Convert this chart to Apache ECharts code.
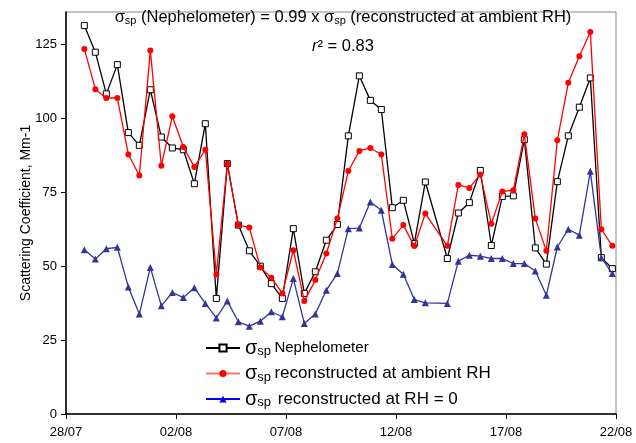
<!DOCTYPE html>
<html>
<head>
<meta charset="utf-8">
<script src="https://cdn.jsdelivr.net/npm/echarts@6/dist/echarts.min.js"></script>
<style>html,body{margin:0;padding:0;background:#fff}#c{width:636px;height:443px}</style>
</head>
<body>
<div id="c"></div>
<script>
// Sample times (dd/mm hh:mm), one sample missing on 13/08 20:00
const sampleTimes = [
  '28/07 20:00','29/07 08:00','29/07 20:00','30/07 08:00','30/07 20:00','31/07 08:00','31/07 20:00',
  '01/08 08:00','01/08 20:00','02/08 08:00','02/08 20:00','03/08 08:00','03/08 20:00','04/08 08:00',
  '04/08 20:00','05/08 08:00','05/08 20:00','06/08 08:00','06/08 20:00','07/08 08:00','07/08 20:00',
  '08/08 08:00','08/08 20:00','09/08 08:00','09/08 20:00','10/08 08:00','10/08 20:00','11/08 08:00',
  '11/08 20:00','12/08 08:00','12/08 20:00','13/08 08:00',
  '14/08 08:00','14/08 20:00','15/08 08:00','15/08 20:00','16/08 08:00','16/08 20:00','17/08 08:00',
  '17/08 20:00','18/08 08:00','18/08 20:00','19/08 08:00','19/08 20:00','20/08 08:00','20/08 20:00',
  '21/08 08:00','21/08 20:00'
];
const nephelometer = [
  131.4,122.4,108.3,118.2,95.2,90.9,109.7,93.7,90,89.4,77.9,98.2,39.1,84.7,63.9,55.2,50,44.1,39.1,62.7,
  40.8,48.1,58.8,64.1,94.1,114.4,106.1,103,69.8,72.3,57.7,78.5,
  52.6,68,71.5,82.4,57,73.6,73.8,92.8,56.2,50.7,78.6,94.1,103.8,113.7,52.9,49.2
];
const ambientRH = [
  123.5,109.9,106.9,106.9,87.8,80.7,123,84,100.7,90.3,83.6,89.4,47.2,84.7,63.9,63.1,49.6,46.1,40.8,55.4,
  38.2,45.3,54.3,66.1,82.2,89,90,87.8,59.3,63.9,56.8,67.8,
  56.9,77.5,76.5,81,64.4,75.3,75.7,94.6,66.1,55.2,92.6,112.1,121,129.2,62.5,56.9
];
const dryRH0 = [
  55.6,52.4,55.9,56.4,43,33.8,49.6,36.6,41.1,39.4,42.7,37.4,32.5,38.2,31.2,29.7,31.4,34.6,32.9,45.8,
  30.6,33.8,41.9,47.5,62.7,62.9,71.7,68.9,50.6,47.3,38.7,37.6,
  37.4,51.7,53.7,53.4,52.6,52.6,50.9,50.9,48.4,40.2,56.5,62.5,60.5,82.1,52.9,47.5
];
const xTickLabels = ['28/07','02/08','07/08','12/08','17/08','22/08'];
const xTickValues = [0,5,10,15,20,25];
const yTickValues = [0,25,50,75,100,125];
const seriesNames = ['Nephelometer','reconstructed at ambient RH','reconstructed at RH = 0'];

// days since 28/07 00:00
function dayOffset(s){
  const [d, t] = s.split(' ');
  const [dd, mm] = d.split('/').map(Number);
  const [hh, mi] = t.split(':').map(Number);
  const base = mm === 7 ? dd - 28 : dd + 3;
  return base + (hh + mi/60)/24;
}
const xs = sampleTimes.map(dayOffset);
const pairs = arr => arr.map((v,i)=>[xs[i], v]);

const FONT = 'Liberation Sans, Arial, sans-serif';
const subRich = {
  s:{fontSize:20,fontFamily:FONT,color:'#000',lineHeight:20},
  sub:{fontSize:13,fontFamily:FONT,color:'#000',verticalAlign:'bottom',lineHeight:13},
  t1:{fontSize:15,fontFamily:FONT,color:'#000',lineHeight:20},
  t2:{fontSize:17,fontFamily:FONT,color:'#000',lineHeight:20}
};

const chart = echarts.init(document.getElementById('c'), null, {renderer:'canvas'});
chart.setOption({
  animation:false,
  backgroundColor:'#fff',
  grid:{left:66,right:20,top:12,bottom:29,show:true,borderColor:'#888',borderWidth:1,containLabel:false},
  xAxis:{
    type:'value',min:0,max:25,
    axisLine:{onZero:false,lineStyle:{color:'#000',width:1.5}},
    axisTick:{customValues:xTickValues,length:5,lineStyle:{color:'#000'}},
    axisLabel:{customValues:xTickValues,margin:12,fontSize:13,fontFamily:FONT,color:'#000',
      formatter:v=>xTickLabels[xTickValues.indexOf(v)]},
    splitLine:{show:false}
  },
  yAxis:{
    type:'value',min:0,max:136,
    name:'Scattering Coefficient, Mm-1',nameLocation:'middle',nameGap:33,nameMoveOverlap:false,
    nameTextStyle:{fontSize:14,fontFamily:FONT,color:'#000'},
    axisLine:{show:true,lineStyle:{color:'#000',width:1.5}},
    axisTick:{show:true,customValues:yTickValues,length:5,lineStyle:{color:'#000'}},
    axisLabel:{customValues:yTickValues,margin:9,fontSize:13,fontFamily:FONT,color:'#000'},
    splitLine:{show:false}
  },
  legend:{
    orient:'vertical',left:200,top:333,itemWidth:34,itemHeight:9,itemGap:5.5,
    data:[
      {name:seriesNames[0]},
      {name:seriesNames[1],lineStyle:{color:'#ff7070'}},
      {name:seriesNames[2],lineStyle:{color:'#0000ff'},itemStyle:{color:'#0000ff'}}
    ],
    formatter:name=>{
      const i = seriesNames.indexOf(name);
      if(i===0) return '{s|σ}{sub|sp} {t1|'+name+'}';
      if(i===2) return '{s|σ}{sub|sp}  {t2|'+name+'}';
      return '{s|σ}{sub|sp} {t2|'+name+'}';
    },
    textStyle:{rich:subRich}
  },
  graphic:[
    {type:'text',x:343,y:17,style:{
      text:'{m|σ}{sub|sp}{m| (Nephelometer) = 0.99 x σ}{sub|sp}{m| (reconstructed at ambient RH)}',
      align:'center',verticalAlign:'middle',
      rich:{m:{fontSize:16.5,fontFamily:FONT,fill:'#000',lineHeight:18},
            sub:{fontSize:11,fontFamily:FONT,fill:'#000',verticalAlign:'bottom',lineHeight:12}}}},
    {type:'text',x:343,y:46,style:{
      text:'{i|r}{m|² = 0.83}',align:'center',verticalAlign:'middle',
      rich:{m:{fontSize:16.5,fontFamily:FONT,fill:'#000'},i:{fontSize:16.5,fontFamily:FONT,fontStyle:'italic',fill:'#000'}}}}
  ],
  series:[
    {name:seriesNames[0],type:'line',data:pairs(nephelometer),symbol:'rect',symbolSize:6,
      itemStyle:{color:'#fff',borderColor:'#000',borderWidth:1},lineStyle:{color:'#000',width:1.3},z:2},
    {name:seriesNames[1],type:'line',data:pairs(ambientRH),symbol:'circle',symbolSize:6,
      itemStyle:{color:'#ff0000'},lineStyle:{color:'#ff0000',width:1.3},z:3},
    {name:seriesNames[2],type:'line',data:pairs(dryRH0),symbol:'triangle',symbolSize:7,
      itemStyle:{color:'#333399'},lineStyle:{color:'#333399',width:1.3},z:4}
  ]
});
</script>
</body>
</html>
